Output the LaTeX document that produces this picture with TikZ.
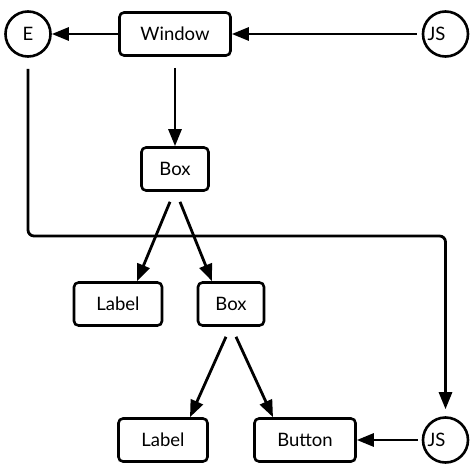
\documentclass[tikz,border=0pt]{standalone}
\usepackage{fontspec}
\setmainfont{Lato}
\usetikzlibrary{arrows.meta,calc}
\begin{document}
\begin{tikzpicture}[x=1pt,y=-1pt,
  lbl/.style={font=\fontsize{18.5}{21}\selectfont},
  box/.style={draw, line width=2.6pt, rounded corners=4.5pt, minimum height=43pt, inner sep=0pt, lbl},
  circ/.style={draw, circle, line width=2.6pt, minimum size=45pt, inner sep=0pt, lbl},
  conn/.style={line width=2.8pt, -{Triangle[length=17pt,width=13pt]}}]
\useasboundingbox (0,0) rectangle (474,474);
\node[circ] (e) at (28,34) {E};
\node[box, minimum width=111pt] (win) at (175,34) {Window};
\node[circ, label={[lbl, xshift=-9pt]center:JS}] (js1) at (445.5,34) {};
\node[box, minimum width=67pt] (box1) at (175,169) {Box};
\node[box, minimum width=88pt] (lab1) at (118,304) {Label};
\node[box, minimum width=66pt] (box2) at (231,304) {Box};
\node[box, minimum width=89pt] (lab2) at (163,440) {Label};
\node[box, minimum width=101pt] (btn) at (305,440) {Button};
\node[circ, label={[lbl, xshift=-9pt]center:JS}] (js2) at (445.5,440) {};
\coordinate (turn) at (0,236);

\draw[conn] (win) -- (e);
\draw[conn, shorten <=5pt] (js1) -- (win);
\draw[conn] ($(win.south)+(0,11)$) -- (box1);
\draw[conn] ($(box1.south)+(-5,10)$) -- ($(lab1.north)+(19,0)$);
\draw[conn] ($(box1.south)+(5,10)$) -- ($(box2.north)+(-19,0)$);
\draw[conn] ($(box2.south)+(-5,10)$) -- ($(lab2.north)+(27,0)$);
\draw[conn] ($(box2.south)+(5,10)$) -- ($(btn.north)+(-32,0)$);
\draw[conn, shorten <=4pt] (js2) -- (btn);
\draw[conn, rounded corners=6pt, shorten >=7pt] ($(e.south)+(0,11)$) -- (e |- turn) -- (js2 |- turn) -- (js2.north);
\end{tikzpicture}
\end{document}
